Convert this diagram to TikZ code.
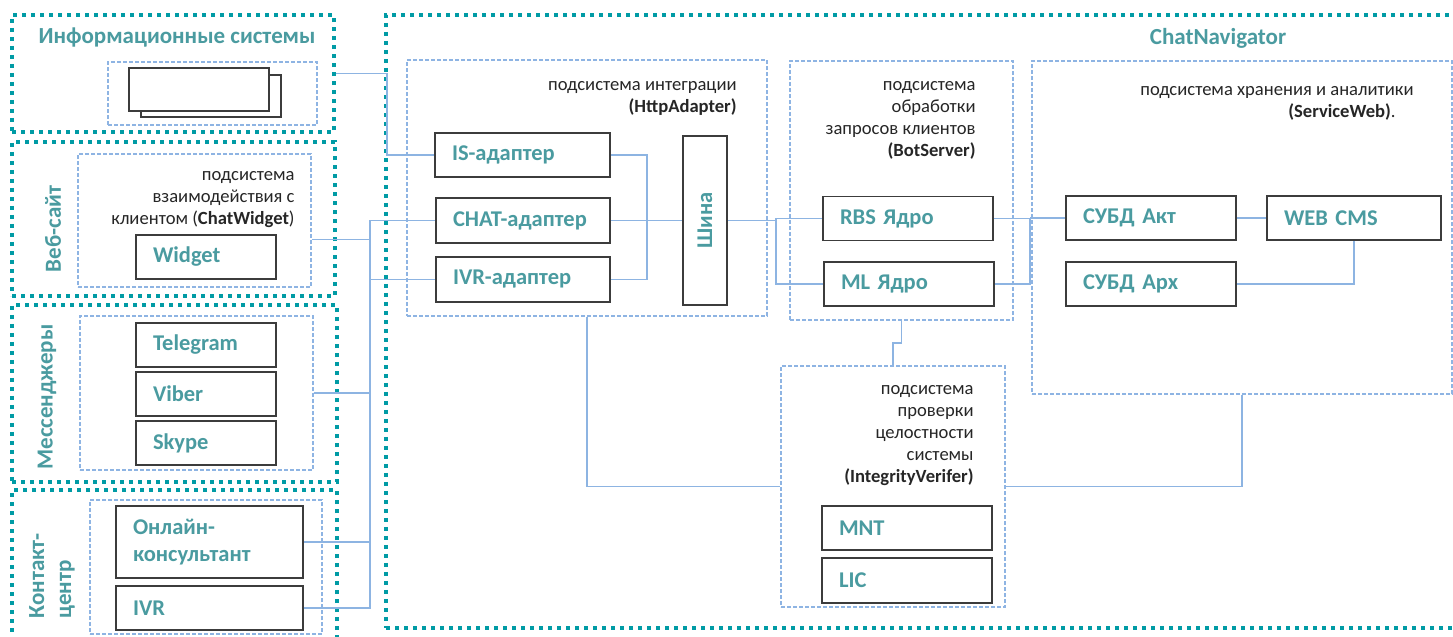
\documentclass[tikz,border=0pt]{standalone}
\usepackage{fontspec}
\setmainfont{Carlito}
\usepackage{graphicx}
\usetikzlibrary{fit,calc}
\definecolor{dotteal}{RGB}{0,155,165}
\definecolor{labteal}{RGB}{74,155,160}
\definecolor{subblue}{RGB}{142,180,227}
\definecolor{linkblue}{RGB}{141,180,226}
\definecolor{boxgray}{RGB}{60,60,60}
\begin{document}
\begin{tikzpicture}[x=0.5pt,y=-0.5pt,
  outer/.style={draw=dotteal, line width=2pt, dash pattern=on 2.2pt off 2.3pt, inner sep=0pt},
  sub/.style={draw=subblue, line width=0.6pt, dash pattern=on 2pt off 1pt, inner sep=0pt},
  plainbox/.style={draw=boxgray, line width=0.8pt, inner sep=0pt},
  blk/.style={draw=boxgray, line width=0.8pt, fill=white, font=\bfseries\fontsize{11.25}{13.5}\selectfont, text=labteal, align=left, inner xsep=8.5pt, inner ysep=0pt, minimum height=22pt},
  conn/.style={draw=linkblue, line width=0.8pt},
  desc/.style={font=\fontsize{9.3}{11}\selectfont, align=right, text=black!85, inner sep=0pt},
  ttl/.style={font=\bfseries\fontsize{11.5}{13.5}\selectfont, text=labteal, inner sep=0pt}]
\clip (0,0) rectangle (1453,637);
\fill[white] (0,0) rectangle (1453,637);

% outer dotted groups
\node[outer, fit={(12,15)(334,132)}] (infosys) {};
\node[outer, fit={(12,142)(335,296)}] (website) {};
\node[outer, fit={(12,305)(337,482)}] (messng) {};
\node[outer, fit={(12,490)(337,665)}] (contact) {};
\node[outer, fit={(386,15)(1475,628)}] (chatnav) {};

% titles
\node[ttl] (tinfo) at (177,38) {Информационные системы};
\node[ttl] (tchat) at (1218,38) {ChatNavigator};
\node[ttl, rotate=90] (tweb) at (53,229) {Веб-сайт};
\node[ttl, rotate=90] (tmsg) at (47,397) {Мессенджеры};
\node[ttl, rotate=90, align=left] (tcc) at (52,576) {Контакт-\\центр};

% subsystem dashed boxes
\node[sub, fit={(108,62)(317,125)}] (isbox) {};
\node[sub, fit={(78,154)(311,287)}] (webbox) {};
\node[sub, fit={(80,316)(313,470)}] (msgbox) {};
\node[sub, fit={(90,500)(322,634)}] (ccbox) {};
\node[sub, fit={(407,60)(767,316)}] (intbox) {};
\node[sub, fit={(790,61)(1013,320)}] (botbox) {};
\node[sub, fit={(1032,61)(1452,394)}] (swbox) {};
\node[sub, fit={(781,366)(1005,607)}] (ivbox) {};

% descriptions
\node[desc, anchor=east] (dweb) at (295,199.5) {подсистема\\взаимодействия с\\клиентом (\textbf{ChatWidget})};
\node[desc, anchor=east] (dint) at (737,98) {подсистема интеграции\\\textbf{(HttpAdapter)}};
\node[desc, anchor=east] (dbot) at (976,120) {подсистема\\обработки\\запросов клиентов\\\textbf{(BotServer)}};
\node[desc, anchor=east] (dsw) at (1414,103) {подсистема хранения и аналитики\\\textbf{(ServiceWeb)}.\hspace*{9pt}};
\node[desc, anchor=east] (div) at (974,435.5) {подсистема\\проверки\\целостности\\системы\\\textbf{(IntegrityVerifer)}};

% helper coordinates
\coordinate (webout) at ([yshift=24pt]webbox.south east);
\coordinate (bx1) at (387,0);
\coordinate (bus) at (370,0);
\coordinate (j1) at (647,0);
\coordinate (j2) at (776,0);
\coordinate (j3) at (1030,0);
\coordinate (jog) at (0,343);

% boxes
\node[plainbox, fit={(141,75)(281,117)}] (isback) {};
\node[plainbox, fill=white, fit={(129,68)(269,111)}] (isfront) {};

\node[blk, text width=53pt] (widget) at (206,257) {Widget};
\node[blk, text width=53pt] (telegram) at (206,345) {Telegram};
\node[blk, text width=53pt] (viber) at (206,394) {Viber};
\node[blk, text width=53pt] (skype) at (206,443) {Skype};
\node[blk, text width=76.5pt, minimum height=36pt] (online) at (209.5,542) {Онлайн-\\консультант};
\node[blk, text width=76.5pt] (ivr) at (209.5,608) {IVR};

\node[blk, text width=70.5pt] (isad) at (522.5,155) {\mbox{IS-адаптер}};
\node[blk, text width=70pt, minimum height=22.5pt] (chatad) at (523,220.5) {\mbox{CHAT-адаптер}};
\node[blk, text width=70pt, minimum height=22.5pt] (ivrad) at (523,279.5) {\mbox{IVR-адаптер}};
\node[blk, align=center, inner xsep=0pt, minimum width=22pt, minimum height=84.5pt] (shina) at (705,220.5) {\rotatebox{90}{Шина}};

\node[blk, text width=68pt] (rbs) at (908,218.5) {RBS Ядро};
\node[blk, text width=68pt] (ml) at (909,284) {ML Ядро};
\node[blk, text width=68pt] (dbact) at (1151,218) {СУБД Акт};
\node[blk, text width=70pt] (webcms) at (1354,218) {WEB CMS};
\node[blk, text width=68pt] (dbarch) at (1151,284) {СУБД Арх};
\node[blk, text width=68pt] (mnt) at (907,528) {MNT};
\node[blk, text width=68pt, minimum height=22.5pt] (lic) at (907,580.5) {LIC};

% links
\draw[conn] (infosys.east) -- (infosys.east -| bx1) -- (bx1 |- isad.west) -- (isad.west);
\draw[conn] (webout) -- (webout -| bus);
\draw[conn] (msgbox.east) -- (msgbox.east -| bus);
\draw[conn] (online.east) -- (online.east -| bus);
\draw[conn] (ivr.east) -- (ivr.east -| bus) -- (bus |- chatad.west) -- (chatad.west);
\draw[conn] (bus |- ivrad.west) -- (ivrad.west);

\draw[conn] (isad.east) -- (isad.east -| j1) -- (j1 |- ivrad.east) -- (ivrad.east);
\draw[conn] (chatad.east) -- (shina.west);

\draw[conn] (shina.east) -- (shina.east -| j2);
\draw[conn] (rbs.west) -- (rbs.west -| j2) -- (j2 |- ml.west) -- (ml.west);

\draw[conn] (rbs.east) -- (rbs.east -| j3) -- (j3 |- ml.east) -- (ml.east);
\draw[conn] (j3 |- dbact.west) -- (dbact.west);
\draw[conn] (dbact.east) -- (webcms.west);
\draw[conn] (webcms.south) |- (dbarch.east);

\draw[conn] (botbox.south) -- (botbox.south |- jog) -- (ivbox.north |- jog) -- (ivbox.north);
\draw[conn] (intbox.south) |- (ivbox.west);
\draw[conn] (ivbox.east) -| (swbox.south);
\end{tikzpicture}
\end{document}
